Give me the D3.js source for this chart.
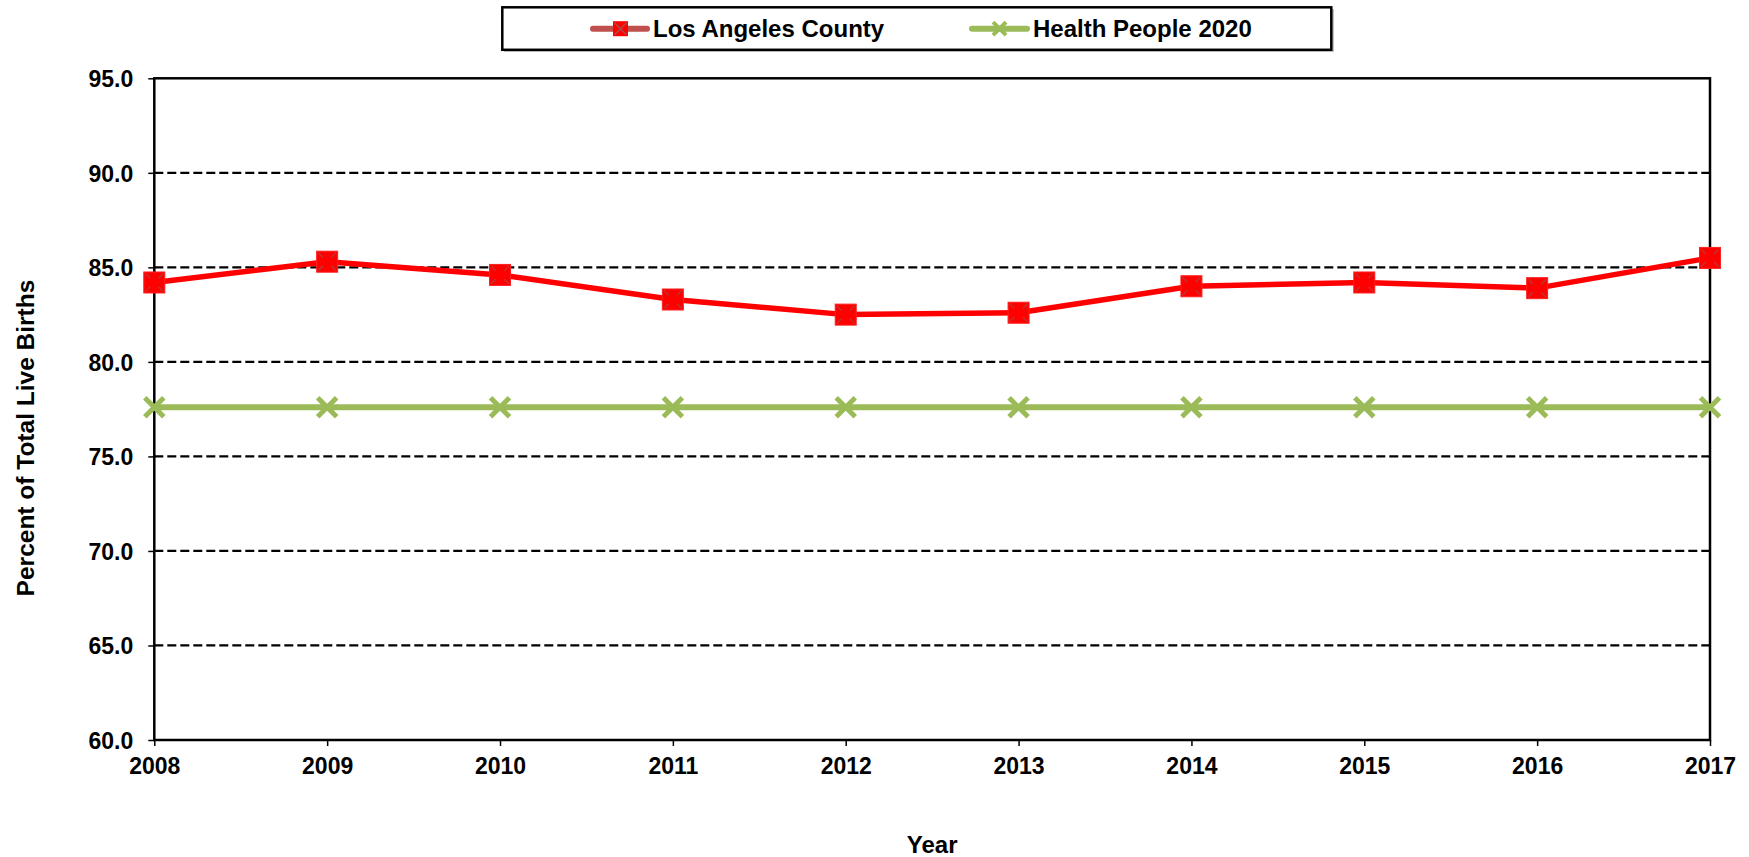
<!DOCTYPE html>
<html>
<head>
<meta charset="utf-8">
<script src="https://cdn.jsdelivr.net/npm/d3@7"></script>
<style>
  html, body { margin: 0; padding: 0; background: #fff; }
  svg { display: block; font-family: "Liberation Sans", Arial, sans-serif; font-weight: bold; }
</style>
</head>
<body>
<svg id="chart" width="1749" height="857"></svg>
<script>
const years = [2008, 2009, 2010, 2011, 2012, 2013, 2014, 2015, 2016, 2017];
const laCounty = [84.2, 85.3, 84.6, 83.3, 82.5, 82.6, 84.0, 84.2, 83.9, 85.5];
const healthyPeople = [77.6, 77.6, 77.6, 77.6, 77.6, 77.6, 77.6, 77.6, 77.6, 77.6];
const yTicks = [60, 65, 70, 75, 80, 85, 90, 95];
const seriesNames = ["Los Angeles County", "Health People 2020"];
const xTitle = "Year";
const yTitle = "Percent of Total Live Births";

const svg = d3.select("#chart");
const L = 154.3, R = 1710, T = 78.3, B = 740;
const x = d3.scaleLinear().domain([2008, 2017]).range([L, R]);
const y = d3.scaleLinear().domain([60, 95]).range([B, T]);

// gridlines
svg.append("g").selectAll("line").data(yTicks.filter(v => v > 60 && v < 95)).join("line")
  .attr("x1", L).attr("x2", R).attr("y1", d => y(d)).attr("y2", d => y(d))
  .attr("stroke", "#000").attr("stroke-width", 2.3).attr("stroke-dasharray", "9,4");

// axes
const yAxis = d3.axisLeft(y).tickValues(yTicks).tickFormat(d3.format(".1f")).tickSize(6).tickPadding(15);
const gy = svg.append("g").attr("transform", `translate(${L},0)`).call(yAxis);
const xAxis = d3.axisBottom(x).tickValues(years).tickFormat(d3.format("d")).tickSize(6).tickPadding(12);
const gx = svg.append("g").attr("transform", `translate(0,${B})`).call(xAxis);
[gy, gx].forEach(g => {
  g.select(".domain").remove();
  g.selectAll(".tick line").attr("stroke", "#000").attr("stroke-width", 1.5);
  g.selectAll(".tick text").attr("fill", "#000").style("font-size", "23px").style("font-weight", "bold")
    .style("font-family", "'Liberation Sans', Arial, sans-serif");
});
gy.selectAll(".tick text").attr("dy", "0.36em");

// frame
svg.append("rect").attr("x", L).attr("y", T).attr("width", R - L).attr("height", B - T)
  .attr("fill", "none").attr("stroke", "#000").attr("stroke-width", 2.5);

// series lines
const lineGen = d3.line().x((d, i) => x(years[i])).y(d => y(d));
svg.append("path").datum(healthyPeople).attr("d", lineGen)
  .attr("fill", "none").attr("stroke", "#9BBB59").attr("stroke-width", 6);
svg.append("path").datum(laCounty).attr("d", lineGen)
  .attr("fill", "none").attr("stroke", "#FF0000").attr("stroke-width", 5.5).attr("stroke-linejoin", "round");

function drawX(g, cx, cy, s, color, w) {
  g.append("path").attr("d", `M${cx - s},${cy - s}L${cx + s},${cy + s}M${cx - s},${cy + s}L${cx + s},${cy - s}`)
    .attr("stroke", color).attr("stroke-width", w).attr("fill", "none");
}
function drawSquare(g, cx, cy, s) {
  g.append("rect").attr("x", cx - s).attr("y", cy - s).attr("width", 2 * s).attr("height", 2 * s)
    .attr("fill", "#FF0000").attr("stroke", "#FF2020").attr("stroke-width", 1);
  const c = s * 0.85, inner = s * 0.4;
  g.append("path").attr("d",
    `M${cx - c},${cy - c}L${cx - inner},${cy - inner}M${cx + c},${cy - c}L${cx + inner},${cy - inner}` +
    `M${cx - c},${cy + c}L${cx - inner},${cy + inner}M${cx + c},${cy + c}L${cx + inner},${cy + inner}`)
    .attr("stroke", "#b04040").attr("stroke-width", 1.5).attr("opacity", 0.8);
}

// green markers
const gm = svg.append("g");
healthyPeople.forEach((v, i) => drawX(gm, x(years[i]), y(v), 9.5, "#9BBB59", 5));
// red markers
const rm = svg.append("g");
laCounty.forEach((v, i) => drawSquare(rm, x(years[i]), y(v), 10.5));

// axis titles
svg.append("text").attr("x", (L + R) / 2).attr("y", 853).attr("text-anchor", "middle")
  .style("font-size", "24px").text(xTitle);
svg.append("text").attr("transform", `translate(34,${(286 + 590) / 2}) rotate(-90)`).attr("text-anchor", "middle")
  .style("font-size", "24.5px").text(yTitle);

// legend
const lg = svg.append("g");
lg.append("rect").attr("x", 504).attr("y", 9).attr("width", 830).attr("height", 43).attr("fill", "#888").attr("opacity", 0.5);
lg.append("rect").attr("x", 502.3).attr("y", 7.3).attr("width", 829).attr("height", 42.5)
  .attr("fill", "#fff").attr("stroke", "#000").attr("stroke-width", 2.5);
const ly = 28.7;
lg.append("line").attr("x1", 593).attr("x2", 647).attr("y1", ly).attr("y2", ly)
  .attr("stroke", "#C0504D").attr("stroke-width", 6).attr("stroke-linecap", "round");
lg.append("rect").attr("x", 613).attr("y", ly - 7.5).attr("width", 15).attr("height", 15).attr("fill", "#FF0000");
drawX(lg, 620.5, ly, 6, "#a05050", 1.5);
lg.append("text").attr("x", 653).attr("y", 37).style("font-size", "24px").text(seriesNames[0]);
lg.append("line").attr("x1", 972).attr("x2", 1027).attr("y1", ly).attr("y2", ly)
  .attr("stroke", "#9BBB59").attr("stroke-width", 6).attr("stroke-linecap", "round");
drawX(lg, 999.5, ly, 6.5, "#9BBB59", 4);
lg.append("text").attr("x", 1033).attr("y", 37).style("font-size", "24px").text(seriesNames[1]);
</script>
</body>
</html>
